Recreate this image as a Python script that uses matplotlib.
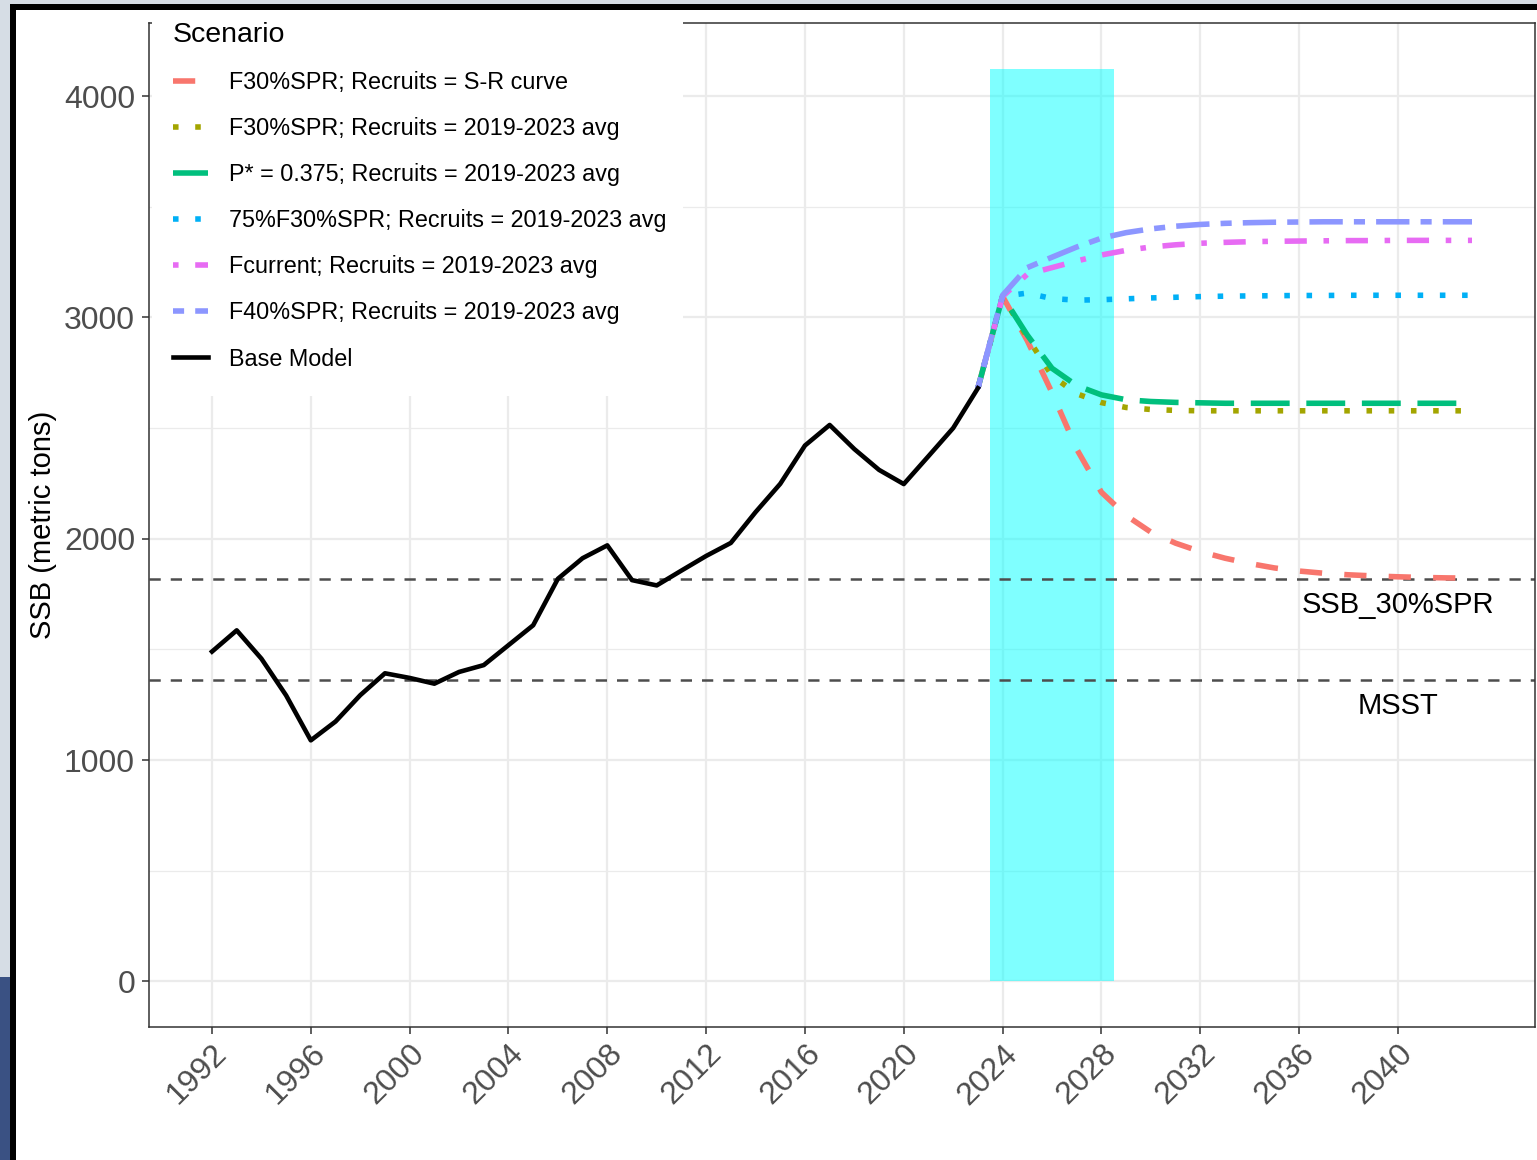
import matplotlib
matplotlib.use("Agg")
import matplotlib.pyplot as plt
from matplotlib.patches import Rectangle

plt.rcParams["font.family"] = ["Liberation Sans", "DejaVu Sans"]

# spawning stock biomass, assessment years
years_hist = list(range(1992, 2024))
ssb_base = [1490, 1586, 1458, 1292, 1089, 1174, 1293, 1392, 1371, 1345,
            1398, 1429, 1519, 1609, 1819, 1912, 1970, 1813, 1789, 1856,
            1922, 1981, 2120, 2248, 2421, 2514, 2405, 2311, 2247, 2373,
            2500, 2680]

# projections, 2023-2043
proj_years = list(range(2023, 2044))
ssb_f30_sr = [2680, 3095, 2895, 2660, 2405, 2210, 2105, 2030, 1980, 1942,
              1912, 1888, 1868, 1854, 1844, 1837, 1832, 1828, 1825, 1823, 1822]
ssb_f30_avg = [2680, 3095, 2910, 2736, 2655, 2615, 2593, 2584, 2580, 2578,
               2578, 2578, 2578, 2578, 2578, 2578, 2578, 2578, 2578, 2578, 2578]
ssb_pstar = [2680, 3095, 2920, 2770, 2692, 2650, 2628, 2620, 2616, 2614,
             2612, 2612, 2612, 2612, 2612, 2612, 2612, 2612, 2612, 2612, 2612]
ssb_75f30 = [2680, 3095, 3110, 3085, 3078, 3080, 3084, 3088, 3091, 3094,
             3096, 3097, 3098, 3099, 3099, 3100, 3100, 3100, 3100, 3100, 3100]
ssb_fcurrent = [2680, 3095, 3195, 3225, 3255, 3282, 3303, 3318, 3328, 3335,
                3339, 3342, 3344, 3345, 3346, 3347, 3347, 3348, 3348, 3348, 3348]
ssb_f40 = [2680, 3100, 3225, 3272, 3318, 3358, 3383, 3400, 3412, 3420,
           3425, 3428, 3430, 3431, 3432, 3432, 3432, 3432, 3432, 3432, 3432]

scenarios = [
    ("F30%SPR; Recruits = S-R curve", ssb_f30_sr, "#F8766D", (4, 4)),
    ("F30%SPR; Recruits = 2019-2023 avg", ssb_f30_avg, "#A3A500", (1, 3)),
    ("P* = 0.375; Recruits = 2019-2023 avg", ssb_pstar, "#00BF7D", (7, 3)),
    ("75%F30%SPR; Recruits = 2019-2023 avg", ssb_75f30, "#00B0F6", (1, 3)),
    ("Fcurrent; Recruits = 2019-2023 avg", ssb_fcurrent, "#E76BF3", (1, 3, 4, 3)),
    ("F40%SPR; Recruits = 2019-2023 avg", ssb_f40, "#8C96FF", (2, 2, 6, 2)),
]

ssb_30spr = 1818
msst = 1363
window_years = (2023.5, 2028.5)
window_top = 4124

W, H = 1537, 1160
fig = plt.figure(figsize=(W / 100, H / 100), dpi=100)
fig.patch.set_facecolor("white")


def fig_box(x0, y0, x1, y1, color):
    # rectangle given in pixels from the top-left corner
    fig.patches.append(Rectangle((x0 / W, 1 - y1 / H), (x1 - x0) / W, (y1 - y0) / H,
                                 transform=fig.transFigure, color=color, lw=0))


# window frame round the plot
fig_box(0, 0, 10, 977, "#d6dde5")
fig_box(0, 977, 10, H, "#3a5183")
fig_box(10, 0, W, 4, "#d6dde5")
fig_box(10, 4, 16, H, "black")
fig_box(10, 4, W, 10, "black")

ax = fig.add_axes([149 / W, 1 - 1027 / H, (1535 - 149) / W, (1027 - 23) / H])
ax.set_xlim(1989.45, 2045.55)
ax.set_ylim(-206.2, 4330.2)

ax.set_xticks(range(1992, 2041, 4))
ax.set_yticks(range(0, 4001, 1000))
ax.set_yticks(range(500, 4001, 1000), minor=True)
ax.set_axisbelow(True)
ax.grid(True, which="major", color="#EBEBEB", lw=1.6)
ax.grid(True, which="minor", axis="y", color="#EBEBEB", lw=0.9)

for s in ax.spines.values():
    s.set_color("#333333")
    s.set_linewidth(1.1)

ax.tick_params(which="major", length=5, width=1.1, color="#333333",
               labelcolor="#4D4D4D", labelsize=23, pad=5)
ax.tick_params(which="minor", length=0)
ax.tick_params(axis="x", pad=3.5)

for lab in ax.get_xticklabels():
    lab.set_rotation(45)
    lab.set_ha("right")
    lab.set_va("top")
    lab.set_rotation_mode("anchor")

ax.set_ylabel("SSB (metric tons)", fontsize=21, color="black", labelpad=5)

# projection window
ax.add_patch(Rectangle((window_years[0], 0), window_years[1] - window_years[0], window_top,
                       color="#00FFFF", alpha=0.5, lw=0, zorder=1))

ax.axhline(ssb_30spr, color="#4D4D4D", lw=1.8, dashes=(4.5, 4), zorder=1.5)
ax.axhline(msst, color="#4D4D4D", lw=1.8, dashes=(4.5, 4), zorder=1.5)
ax.text(2040, 1700, "SSB_30%SPR", ha="center", va="center", fontsize=21)
ax.text(2040, 1242, "MSST", ha="center", va="center", fontsize=21)

for label, vals, color, dash in scenarios:
    ax.plot(proj_years, vals, color=color, lw=4.0, dashes=dash, label=label,
            dash_capstyle="butt")
ax.plot(years_hist, ssb_base, color="black", lw=3.3, label="Base Model",
        solid_joinstyle="round")

# white backing for the legend over the panel
ax.add_patch(Rectangle(((152 - 149) / 1386, (1027 - 396) / 1004),
                       (683 - 152) / 1386, (396 - 23) / 1004 + 0.002,
                       transform=ax.transAxes, facecolor="white", lw=0,
                       zorder=3, clip_on=False))

leg = ax.legend(loc="upper left",
                bbox_to_anchor=((173 - 26) / W, 1 - (22 - 26) / H),
                bbox_transform=fig.transFigure, frameon=False,
                title="Scenario", fontsize=16.8, title_fontsize=20.5,
                handlelength=1.5, handletextpad=0.9, labelspacing=0.99,
                borderpad=1.11, borderaxespad=0, alignment="left")
leg.set_zorder(5)

fig.savefig("out.png", dpi=100)
